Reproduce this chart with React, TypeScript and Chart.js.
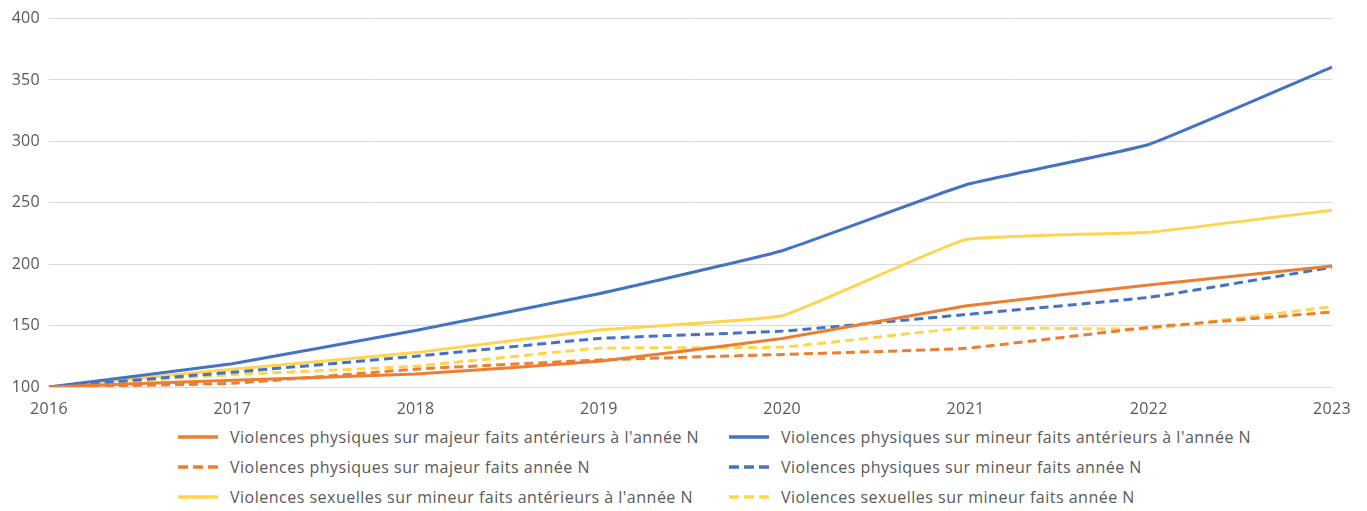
import React, { useEffect, useRef } from "react";
import { Chart, registerables } from "chart.js";

Chart.register(...registerables);

const years = ["2016", "2017", "2018", "2019", "2020", "2021", "2022", "2023"];
const physMajeurAnt = [100, 105.5, 110.5, 121, 139.5, 166, 183, 198.5];
const physMineurAnt = [100, 119, 146, 176, 211, 264.5, 297.5, 360.5];
const physMajeurN = [100, 103, 114.5, 122, 126.5, 131.5, 148.5, 161];
const physMineurN = [100, 112, 125, 139.5, 145.5, 159, 173, 197.5];
const sexMineurAnt = [100, 114.5, 128, 146.5, 158, 220, 226, 244];
const sexMineurN = [100, 110, 117, 131.5, 132.5, 148, 147.5, 165.5];
const yTicks = [100, 150, 200, 250, 300, 350, 400];

const ORANGE = "#ED7D31";
const BLUE = "#4472C4";
const YELLOW = "#FFD54F";
const TEXT = "#595959";
const FONT = "'Open Sans', sans-serif";

const seriesDefs = [
  { label: "Violences physiques sur majeur faits antérieurs à l'année N", data: physMajeurAnt, color: ORANGE, dashed: false },
  { label: "Violences physiques sur mineur faits antérieurs à l'année N", data: physMineurAnt, color: BLUE, dashed: false },
  { label: "Violences physiques sur majeur faits année N", data: physMajeurN, color: ORANGE, dashed: true },
  { label: "Violences physiques sur mineur faits année N", data: physMineurN, color: BLUE, dashed: true },
  { label: "Violences sexuelles sur mineur faits antérieurs à l'année N", data: sexMineurAnt, color: YELLOW, dashed: false },
  { label: "Violences sexuelles sur mineur faits année N", data: sexMineurN, color: YELLOW, dashed: true },
];

const spacingPlugin = {
  id: "letterSpacing",
  beforeDraw: (chart: any) => {
    try {
      chart.ctx.letterSpacing = "0.3px";
    } catch (e) {}
  },
};

export default function App() {
  const ref = useRef<HTMLCanvasElement | null>(null);

  useEffect(() => {
    if (!ref.current) return;
    const chart = new Chart(ref.current, {
      type: "line",
      data: {
        labels: years,
        datasets: seriesDefs.map((s) => ({
          label: s.label,
          data: s.data,
          borderColor: s.color,
          backgroundColor: s.color,
          borderWidth: 3,
          borderDash: s.dashed ? [9, 5] : [],
          pointRadius: 0,
          tension: 0.1,
          fill: false,
        })),
      },
      options: {
        animation: false,
        responsive: false,
        maintainAspectRatio: false,
        layout: { padding: { left: 0, right: 35, top: 17, bottom: 0 } },
        plugins: { legend: { display: false }, tooltip: { enabled: false } },
        scales: {
          x: {
            offset: false,
            grid: { display: false },
            border: { display: false },
            ticks: { color: TEXT, font: { family: FONT, size: 16 }, padding: 5, maxRotation: 0, autoSkip: false },
            afterFit: (scale: any) => {
              scale.height = 27;
            },
          },
          y: {
            min: 100,
            max: 400,
            afterBuildTicks: (scale: any) => {
              scale.ticks = yTicks.map((v) => ({ value: v }));
            },
            grid: { color: "#D9D9D9", lineWidth: 1, drawTicks: false },
            border: { display: false },
            ticks: { color: TEXT, font: { family: FONT, size: 16 }, padding: 9 },
            afterFit: (scale: any) => {
              scale.width = 49;
            },
          },
        },
      },
      plugins: [spacingPlugin],
    });
    return () => chart.destroy();
  }, []);

  const colLeft = [178, 729];
  const rowTop = [437, 467, 497];

  return (
    <div style={{ position: "fixed", left: 0, top: 0, width: 1367, height: 511, background: "#fff", overflow: "hidden" }}>
      <canvas ref={ref} width={1367} height={414} style={{ position: "absolute", left: 0, top: 0, width: 1367, height: 414 }} />
      {seriesDefs.map((s, i) => {
        const col = i % 2;
        const row = Math.floor(i / 2);
        return (
          <div
            key={s.label}
            style={{
              position: "absolute",
              left: colLeft[col],
              top: rowTop[row] - 12,
              height: 24,
              display: "flex",
              alignItems: "center",
              whiteSpace: "nowrap",
              fontFamily: FONT,
              fontSize: 16,
              letterSpacing: "0.5px",
              color: TEXT,
            }}
          >
            <svg width={40} height={6} style={{ marginRight: 12, flex: "none" }}>
              <line
                x1={0}
                y1={3}
                x2={40}
                y2={3}
                stroke={s.color}
                strokeWidth={3.5}
                strokeDasharray={s.dashed ? "10 5" : undefined}
              />
            </svg>
            <span>{s.label}</span>
          </div>
        );
      })}
    </div>
  );
}
